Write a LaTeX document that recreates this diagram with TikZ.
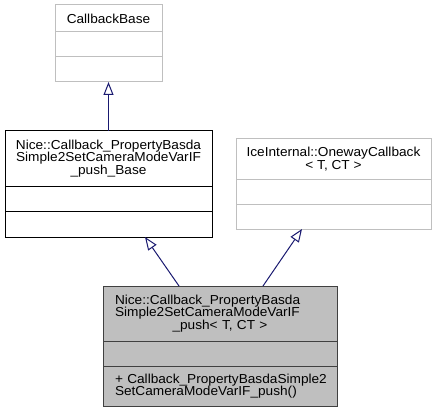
\documentclass[tikz,border=0pt]{standalone}
\usepackage{fontspec}
\setmainfont{Liberation Sans}[FakeStretch=1.05]
\usetikzlibrary{positioning, arrows.meta}
\definecolor{edgeblue}{HTML}{191970}
\definecolor{lightframe}{HTML}{BFBFBF}
\definecolor{darkframe}{HTML}{404040}
\definecolor{classfill}{HTML}{BFBFBF}

\begin{document}
\begin{tikzpicture}[
  x=1pt, y=-1pt,
  every node/.style={rectangle, inner sep=0pt, outer sep=0pt, line width=1pt, font=\fontsize{13}{12.5}\selectfont, align=center},
  grayclass/.style={draw=lightframe},
  plainclass/.style={draw=black},
  mainclass/.style={draw=darkframe, fill=classfill},
  inherit/.style={draw=edgeblue, line width=1pt, -{Triangle[open, length=13pt, width=10pt]}}
]
  \useasboundingbox (0,0) rectangle (437,412);
  % CallbackBase
  \node[grayclass, anchor=north west, minimum width=107pt, minimum height=27pt] (cbtitle) at (55,5) {CallbackBase};
  \node[grayclass, below=0pt of cbtitle, minimum width=107pt, minimum height=25pt] (cbattr) {};
  \node[grayclass, below=0pt of cbattr, minimum width=107pt, minimum height=25pt] (cbops) {};
  % Nice base class
  \node[plainclass, anchor=north west, minimum width=207pt, minimum height=55pt] (basetitle) at (5,131)
    {Nice::Callback\_PropertyBasda\\Simple2SetCameraModeVarIF\\\_push\_Base};
  \node[plainclass, below=0pt of basetitle, minimum width=207pt, minimum height=25pt] (baseattr) {};
  \node[plainclass, below=0pt of baseattr, minimum width=207pt, minimum height=26pt] (baseops) {};
  % IceInternal
  \node[grayclass, anchor=north west, minimum width=195pt, minimum height=40pt] (icetitle) at (236,139)
    {IceInternal::OnewayCallback\\< T, CT >};
  \node[grayclass, below=0pt of icetitle, minimum width=195pt, minimum height=25pt] (iceattr) {};
  \node[grayclass, below=0pt of iceattr, minimum width=195pt, minimum height=25pt] (iceops) {};
  % push class
  \node[mainclass, anchor=north west, minimum width=234pt, minimum height=55pt, text width=210pt, align=left] (pushtitle) at (103,286)
    {Nice::Callback\_PropertyBasda\\Simple2SetCameraModeVarIF\\\hbox to 210pt{\hss\_push< T, CT >\hss}};
  \node[mainclass, below=0pt of pushtitle, minimum width=234pt, minimum height=25pt] (pushattr) {};
  \node[mainclass, below=0pt of pushattr, minimum width=234pt, minimum height=40pt, text width=210pt, align=left] (pushops)
    {\mbox{+ Callback\_PropertyBasdaSimple2}\\SetCameraModeVarIF\_push()};

  \draw[inherit] (basetitle.north) -- (cbops.south);
  \draw[inherit] ([xshift=-41pt]pushtitle.north) -- ([xshift=36.5pt]baseops.south);
  \draw[inherit] ([xshift=43pt]pushtitle.north) -- ([xshift=-31.5pt]iceops.south);
\end{tikzpicture}
\end{document}
